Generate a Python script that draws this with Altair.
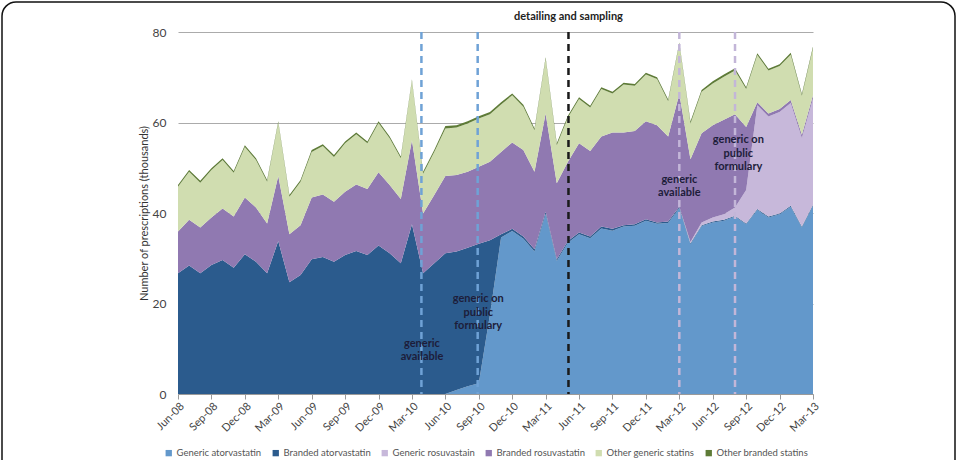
import json
import altair as alt
import pandas as pd

# Monthly statin prescriptions (thousands), Jun-08 .. Mar-13 (58 months)
n_months = 58
tick_positions = list(range(0, 58, 3))
tick_labels = ["Jun-08", "Sep-08", "Dec-08", "Mar-09", "Jun-09", "Sep-09", "Dec-09",
               "Mar-10", "Jun-10", "Sep-10", "Dec-10", "Mar-11", "Jun-11", "Sep-11",
               "Dec-11", "Mar-12", "Jun-12", "Sep-12", "Dec-12", "Mar-13"]

generic_atorvastatin = [0] * 24 + [
    0.0, 0.9, 1.7, 2.4, 17.5, 34.6,
    36.0, 34.3, 31.5, 39.8, 29.4, 33.4, 35.3, 34.4, 36.6, 36.1, 37.0, 37.2,
    38.3, 37.6, 37.8, 41.1, 33.1, 37.1, 37.9, 38.3, 39.2, 37.5, 40.7, 39.0,
    39.7, 41.4, 36.8, 41.6]

branded_atorvastatin = [
    26.7, 28.4, 26.7, 28.5, 29.6, 27.9, 30.9, 29.2, 26.7, 33.8, 24.7, 26.3,
    29.8, 30.3, 29.2, 30.7, 31.6, 30.7, 32.8, 31.1, 28.9, 37.5, 26.7, 28.9,
    31.1, 30.6, 30.6, 30.8, 16.5, 0.7,
    0.5, 0.5, 0.5, 0.5, 0.4, 0.4, 0.4, 0.4, 0.4, 0.4, 0.3, 0.3, 0.3, 0.3,
    0.3, 0.3, 0.2, 0.2, 0.2, 0.2, 0.2, 0.2, 0.2, 0.2, 0.2, 0.2, 0.2, 0.2]

generic_rosuvastatin = [0] * 46 + [
    0.3, 0.6, 0.9, 1.2, 1.8, 7.4, 22.9, 22.1, 22.4, 22.7, 19.6, 23.5]

branded_rosuvastatin = [
    9.2, 10.1, 10.1, 10.5, 11.4, 11.3, 12.5, 12.0, 11.0, 14.4, 10.6, 11.0,
    13.6, 13.8, 13.3, 14.0, 14.7, 14.6, 16.2, 15.1, 14.2, 18.6, 13.2, 15.1,
    17.1, 16.9, 16.8, 17.0, 17.3, 18.2, 19.1, 19.1, 17.1, 21.7, 16.8, 17.5,
    19.7, 18.9, 19.9, 21.3, 20.5, 20.6, 21.7, 21.5, 18.8, 24.9, 18.3, 19.7,
    20.4, 20.9, 20.6, 13.9, 0.7, 0.7, 0.7, 0.7, 0.7, 0.7]

other_generic = [
    9.9, 10.6, 9.9, 10.5, 10.7, 9.7, 11.2, 10.5, 9.2, 11.8, 8.3, 9.6,
    10.1, 10.7, 9.9, 10.7, 11.1, 10.1, 10.9, 10.3, 9.0, 13.1, 8.8, 9.5,
    10.5, 10.5, 10.7, 10.7, 10.5, 10.5, 10.4, 9.6, 9.2, 12.1, 8.4, 9.8,
    9.8, 9.6, 10.5, 8.6, 10.6, 10.0, 10.3, 10.2, 7.8, 11.1, 7.9, 9.2,
    9.2, 9.5, 9.7, 8.4, 10.4, 9.5, 9.5, 10.0, 8.6, 10.4]

other_branded = [
    0.4, 0.4, 0.4, 0.4, 0.4, 0.4, 0.4, 0.4, 0.4, 0.3, 0.4, 0.4,
    0.4, 0.4, 0.4, 0.4, 0.4, 0.4, 0.4, 0.4, 0.4, 0.3, 0.4, 0.4,
    0.5, 0.5, 0.5, 0.5, 0.5, 0.5, 0.4, 0.4, 0.4, 0.3, 0.4, 0.4,
    0.4, 0.4, 0.4, 0.4, 0.4, 0.4, 0.4, 0.4, 0.4, 0.3, 0.4, 0.4,
    0.5, 0.5, 0.5, 0.4, 0.4, 0.4, 0.4, 0.4, 0.4, 0.4]

series_names = ["Generic atorvastatin", "Branded atorvastatin", "Generic rosuvastain",
                "Branded rosuvastatin", "Other generic statins", "Other branded statins"]
series_values = [generic_atorvastatin, branded_atorvastatin, generic_rosuvastatin,
                 branded_rosuvastatin, other_generic, other_branded]
series_colors = ["#6398cb", "#2b5b8d", "#c7b8da", "#9079b1", "#d0ddb0", "#5e7b37"]

# Event markers (month index) and annotations
event_x = [21.85, 26.9, 35.05, 45.0, 50.0]
event_colors = ["#6fa2d6", "#6fa2d6", "#1a1a1a", "#c3b6d8", "#c3b6d8"]

note_lines = ["generic", "available",
              "generic on", "public", "formulary",
              "generic", "available",
              "generic on", "public", "formulary"]
note_x = [21.9, 21.9, 26.95, 26.95, 26.95, 45.0, 45.0, 50.3, 50.3, 50.3]
note_y = [11.0, 8.2, 21.0, 18.0, 15.0, 47.3, 44.4, 56.1, 53.0, 50.1]

rows = []
for order, (name, vals) in enumerate(zip(series_names, series_values)):
    for i in range(n_months):
        rows.append({"month": i, "series": name, "value": vals[i], "order": order})
df = pd.DataFrame(rows)

label_expr = json.dumps(tick_labels).replace('"', "'") + "[round(datum.value / 3)]"

FONT = "Lato"

x_axis = alt.Axis(values=tick_positions, labelExpr=label_expr, labelAngle=-45,
                  labelAlign="right", labelBaseline="top", grid=False,
                  labelOverlap=False, labelBound=False, labelFlush=False,
                  domainColor="#9a9a9a", tickColor="#9a9a9a", tickSize=5,
                  labelFontSize=11, labelColor="#444", labelFont=FONT,
                  labelPadding=1, title=None)
y_axis = alt.Axis(values=[0, 20, 40, 60, 80], grid=True, gridColor="#ababab",
                  domain=False, ticks=False, labelFontSize=12, labelColor="#444",
                  labelFont=FONT, labelPadding=12, labelOverlap=False,
                  title="Number of prescriptions (thousands)", titleFont=FONT,
                  titleFontSize=11, titleFontWeight="normal", titleColor="#333",
                  titlePadding=3)

x_scale = alt.Scale(domain=[0, n_months - 1], nice=False, zero=False)
y_scale = alt.Scale(domain=[0, 80], nice=False)

areas = alt.Chart(df).mark_area(opacity=1).encode(
    x=alt.X("month:Q", scale=x_scale, axis=x_axis),
    y=alt.Y("value:Q", stack="zero", scale=y_scale, axis=y_axis),
    color=alt.Color("series:N",
                    scale=alt.Scale(domain=series_names, range=series_colors),
                    legend=alt.Legend(orient="none", legendX=-14, legendY=416,
                                      direction="horizontal", title=None,
                                      symbolType="square", symbolSize=40,
                                      symbolStrokeWidth=0, labelFontSize=9.5,
                                      labelColor="#555", labelFont=FONT,
                                      columnPadding=9, labelOffset=3)),
    order=alt.Order("order:Q", sort="ascending"),
)

rules_df = pd.DataFrame({"x": event_x, "c": event_colors})
rules = alt.Chart(rules_df).mark_rule(strokeDash=[7, 5], strokeWidth=2.5).encode(
    x=alt.X("x:Q", scale=x_scale, axis=x_axis),
    color=alt.Color("c:N", scale=None),
)

notes_df = pd.DataFrame({"x": note_x, "y": note_y, "t": note_lines})
notes = alt.Chart(notes_df).mark_text(font=FONT, fontWeight="bold", fontSize=11,
                                      color="#1d1d3a").encode(
    x=alt.X("x:Q", scale=x_scale, axis=x_axis),
    y=alt.Y("y:Q", scale=y_scale, axis=y_axis),
    text="t:N",
)

head_df = pd.DataFrame({"x": [35.05], "t": ["detailing and sampling"]})
head = alt.Chart(head_df).mark_text(font=FONT, fontWeight="bold", fontSize=11,
                                    color="#222").encode(
    x=alt.X("x:Q", scale=x_scale, axis=x_axis),
    y=alt.value(-15),
    text="t:N",
)

# Rounded figure border
frame = alt.Chart(head_df).mark_rect(fill=None, stroke="#111", strokeWidth=1.5,
                                     cornerRadius=14, clip=False).encode(
    x=alt.value(-176), x2=alt.value(777), y=alt.value(-30), y2=alt.value(445),
)

chart = alt.layer(areas, rules, notes, head, frame).properties(
    width=635, height=362,
    autosize=alt.AutoSizeParams(type="none"),
    padding={"left": 178, "top": 32, "right": 144, "bottom": 66},
).configure_view(stroke=None).configure_axis(labelOverlap=False)

chart.save("out.html", embed_options={"renderer": "svg", "actions": False})
